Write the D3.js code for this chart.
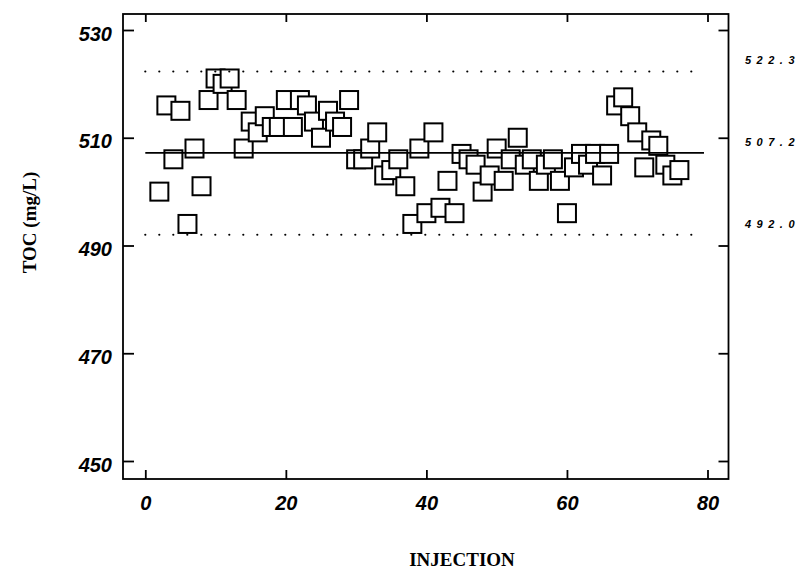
<!DOCTYPE html>
<html>
<head>
<meta charset="utf-8">
<script src="https://cdn.jsdelivr.net/npm/d3@7"></script>
<style>
  html, body { margin: 0; padding: 0; background: #fff; }
  svg { display: block; }
</style>
</head>
<body>
<svg id="chart" width="804" height="571"></svg>
<script>
// ---- data ----
const injection = [2,3,4,5,6,7,8,9,10,11,12,13,14,15,16,17,18,19,20,21,22,23,24,25,26,27,28,29,30,31,32,33,34,35,36,37,38,39,40,41,42,43,44,45,46,47,48,49,50,51,52,53,54,55,56,57,58,59,60,61,62,63,64,65,66,67,68,69,70,71,72,73,74,75,76];
const toc = [500,516,506,515,494,508,501,517,521,520,521,517,508,513,511,514,512,512,517,512,517,516,513,510,515,513,512,517,506,506,508,511,503,504,506,501,494,508,496,511,497,502,496,507,506,505,500,503,508,502,506,510,505,506,502,505,506,502,496,504.5,507,505,507,503,507,516,517.5,514,511,504.5,509.5,508.5,505,503,504];
const xTicks = [0, 20, 40, 60, 80];
const yTicks = [450, 470, 490, 510, 530];
const mean = 507.2;
const limits = [522.3, 492.0];
const refLabels = ["522.3", "507.2", "492.0"];
const refValues = [522.3, 507.2, 492.0];
const lineSpan = [0, 79.5];

// ---- layout ----
const svg = d3.select("#chart");
const frame = { left: 123, right: 728.5, top: 14, bottom: 479 };
const x = d3.scaleLinear().domain([0, 80]).range([145.3, 707.5]);
const y = d3.scaleLinear().domain([450, 530]).range([461, 30]);

svg.append("rect").attr("width", 804).attr("height", 571).attr("fill", "#fff");

const tickFont = "'Liberation Sans', Arial, Helvetica, sans-serif";
const titleFont = "'Liberation Serif', 'Times New Roman', Times, serif";

// points (drawn first, lines on top)
const pts = injection.map((d, i) => ({ x: d, v: toc[i] }));
const sq = 18;
svg.append("g").selectAll("rect")
  .data(pts).enter().append("rect")
  .attr("x", d => x(d.x) - sq / 2)
  .attr("y", d => y(d.v) - sq / 2)
  .attr("width", sq).attr("height", sq)
  .attr("fill", "#fff").attr("stroke", "#000").attr("stroke-width", 2);

// reference lines
svg.append("line")
  .attr("x1", x(lineSpan[0])).attr("x2", x(lineSpan[1]))
  .attr("y1", y(mean)).attr("y2", y(mean))
  .attr("stroke", "#000").attr("stroke-width", 1.6);

svg.append("g").selectAll("line")
  .data(limits).enter().append("line")
  .attr("x1", x(lineSpan[0])).attr("x2", x(lineSpan[1]))
  .attr("y1", d => y(d)).attr("y2", d => y(d))
  .attr("stroke", "#000").attr("stroke-width", 2.2)
  .attr("stroke-linecap", "round")
  .attr("stroke-dasharray", "0 14");

// frame
svg.append("rect")
  .attr("x", frame.left).attr("y", frame.top)
  .attr("width", frame.right - frame.left).attr("height", frame.bottom - frame.top)
  .attr("fill", "none").attr("stroke", "#000").attr("stroke-width", 1.8);

// axes
const styleAxis = g => {
  g.select(".domain").remove();
  g.selectAll(".tick line").attr("stroke", "#000").attr("stroke-width", 1.8);
  g.selectAll("text").attr("fill", "#000")
    .style("font-family", tickFont).style("font-size", "20px")
    .style("font-weight", "bold").style("font-style", "italic");
};

svg.append("g").attr("transform", `translate(${frame.left},0)`)
  .call(d3.axisLeft(y).tickValues(yTicks).tickSize(-11).tickPadding(11).tickFormat(d3.format("d")))
  .call(styleAxis)
  .call(g => g.selectAll("text").attr("dy", "0.5em"));

svg.append("g").attr("transform", `translate(${frame.right},0)`)
  .call(d3.axisRight(y).tickValues(yTicks).tickSize(-10).tickFormat(""))
  .call(styleAxis);

svg.append("g").attr("transform", `translate(0,${frame.bottom})`)
  .call(d3.axisBottom(x).tickValues(xTicks).tickSize(-9).tickPadding(17).tickFormat(d3.format("d")))
  .call(styleAxis);

svg.append("g").attr("transform", `translate(0,${frame.top})`)
  .call(d3.axisTop(x).tickValues(xTicks).tickSize(-8).tickFormat(""))
  .call(styleAxis);

// right-hand reference labels
svg.append("g").selectAll("text")
  .data(refValues).enter().append("text")
  .attr("x", 745)
  .attr("y", d => y(d) - 7)
  .text((d, i) => refLabels[i])
  .attr("fill", "#000")
  .style("font-family", tickFont).style("font-size", "11px")
  .style("font-weight", "bold").style("font-style", "italic")
  .style("letter-spacing", "5.5px");

// axis titles
svg.append("text")
  .attr("transform", `translate(36,${(frame.top + frame.bottom) / 2 - 24}) rotate(-90)`)
  .attr("text-anchor", "middle")
  .text("TOC (mg/L)")
  .style("font-family", titleFont).style("font-size", "19px").style("font-weight", "bold");

svg.append("text")
  .attr("x", 462).attr("y", 566)
  .attr("text-anchor", "middle")
  .text("INJECTION")
  .style("font-family", titleFont).style("font-size", "19px").style("font-weight", "bold");
</script>
</body>
</html>
